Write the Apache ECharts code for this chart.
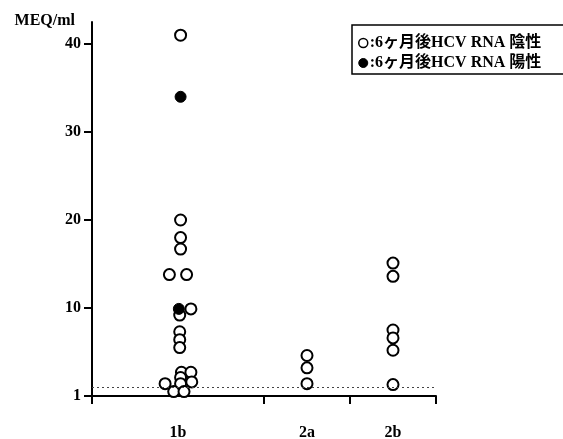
<!DOCTYPE html>
<html>
<head>
<meta charset="utf-8">
<script src="https://cdn.jsdelivr.net/npm/echarts@6/dist/echarts.min.js"></script>
<style>html,body{margin:0;padding:0;background:#fff;}#c{width:563px;height:439px;}</style>
</head>
<body>
<div id="c"></div>
<script>
// Categories and their span on the x scale (1b spans twice the width)
var categories = ['1b', '2a', '2b'];
var categoryCenters = [1, 2.5, 3.5];
var categoryBounds = [0, 2, 3, 4];
var yTicks = [0, 10, 20, 30, 40];
var yTickLabels = ['1', '10', '20', '30', '40'];
var cutoff = 1;

// 6ヶ月後HCV RNA 陰性 (open circles): x position (with jitter) and value
var openX = [1.03, 1.03, 1.03, 1.03, 0.90, 1.10, 1.15, 1.02, 1.02, 1.02, 1.02, 1.04, 1.15, 1.03, 1.16, 0.85, 1.03, 0.95, 1.07,
             2.5, 2.5, 2.5,
             3.5, 3.5, 3.5, 3.5, 3.5, 3.5];
var openY = [41, 20, 18, 16.7, 13.8, 13.8, 9.9, 9.2, 7.3, 6.4, 5.5, 2.7, 2.7, 2.1, 1.6, 1.4, 1.4, 0.5, 0.5,
             4.6, 3.2, 1.4,
             15.1, 13.6, 7.5, 6.6, 5.2, 1.3];
// 6ヶ月後HCV RNA 陽性 (filled circles)
var filledX = [1.03, 1.01];
var filledY = [34, 9.9];

var seriesNames = ['6ヶ月後HCV RNA 陰性', '6ヶ月後HCV RNA 陽性'];

function pairs(xs, ys) { return xs.map(function (x, i) { return [x, ys[i]]; }); }

var font = '"Liberation Serif", "Noto Sans CJK JP", serif';
var chart = echarts.init(document.getElementById('c'), null, { renderer: 'canvas' });
chart.setOption({
  animation: false,
  backgroundColor: '#fff',
  grid: { left: 92, right: 127, top: 22, bottom: 43, containLabel: false, outerBoundsMode: 'none' },
  legend: {
    orient: 'vertical',
    left: 352, top: 25,
    padding: [10, 30, 3, 6],
    itemGap: 4,
    itemWidth: 9, itemHeight: 9,
    borderColor: '#000', borderWidth: 1.5,
    icon: 'circle',
    data: [
      { name: seriesNames[0], itemStyle: { color: '#fff', borderColor: '#000', borderWidth: 1.5 } },
      { name: seriesNames[1], itemStyle: { color: '#000', borderColor: '#000', borderWidth: 1 } }
    ],
    formatter: function (n) { return ':' + n; },
    textStyle: { fontFamily: font, fontWeight: 'bold', fontSize: 16, color: '#000', padding: [0, 0, 0, -3] }
  },
  xAxis: {
    type: 'value', min: 0, max: 4, offset: 17,
    axisLine: { lineStyle: { color: '#000', width: 2 } },
    axisTick: { customValues: categoryBounds, length: 8, lineStyle: { color: '#000', width: 2 } },
    axisLabel: {
      customValues: categoryCenters, margin: 12,
      formatter: function (v) { var i = categoryCenters.indexOf(v); return i >= 0 ? categories[i] : ''; },
      fontFamily: font, fontWeight: 'bold', fontSize: 16, color: '#000'
    },
    splitLine: { show: false }
  },
  yAxis: {
    type: 'value', min: 0, max: 42.5,
    name: 'MEQ/ml', nameLocation: 'end', nameGap: 1,
    nameTextStyle: { fontFamily: font, fontWeight: 'bold', fontSize: 16, color: '#000', align: 'right', verticalAlign: 'middle', padding: [0, 17, 0, 0] },
    axisLine: { show: true, lineStyle: { color: '#000', width: 2 } },
    axisTick: { customValues: yTicks, length: 8, lineStyle: { color: '#000', width: 2 } },
    axisLabel: {
      customValues: yTicks, margin: 11,
      formatter: function (v) { var i = yTicks.indexOf(v); return i >= 0 ? yTickLabels[i] : ''; },
      fontFamily: font, fontWeight: 'bold', fontSize: 16, color: '#000'
    },
    splitLine: { show: false }
  },
  series: [
    {
      name: seriesNames[0], type: 'scatter', symbol: 'circle', symbolSize: 11,
      itemStyle: { color: '#fff', borderColor: '#000', borderWidth: 2, opacity: 1 },
      data: pairs(openX, openY),
      markLine: {
        silent: true, symbol: 'none', label: { show: false },
        lineStyle: { type: [2, 3], color: '#444', width: 1 },
        data: [{ yAxis: cutoff }]
      },
      z: 2
    },
    {
      name: seriesNames[1], type: 'scatter', symbol: 'circle', symbolSize: 11,
      itemStyle: { color: '#000', borderColor: '#000', borderWidth: 1, opacity: 1 },
      data: pairs(filledX, filledY),
      z: 3
    }
  ]
});
</script>
</body>
</html>
